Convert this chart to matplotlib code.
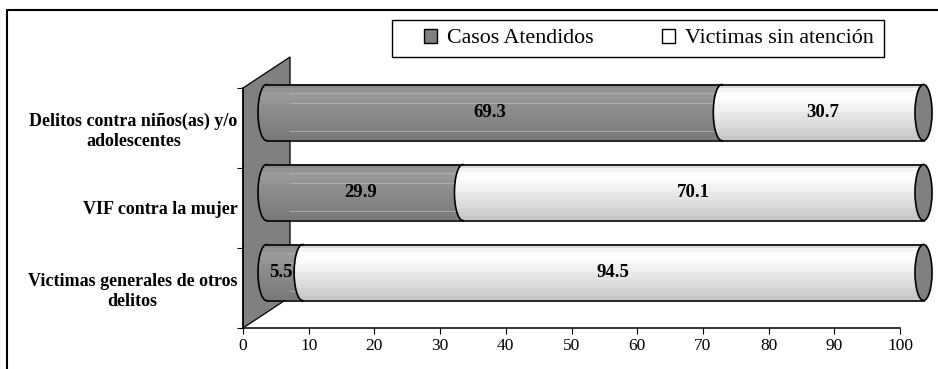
import numpy as np
import matplotlib.pyplot as plt
from matplotlib.patches import Polygon, Ellipse, Patch, Rectangle
from matplotlib.lines import Line2D

plt.rcParams['font.family'] = ['Liberation Serif', 'DejaVu Serif']

# datos (de abajo hacia arriba)
categorias = ['Victimas generales de otros\ndelitos',
              'VIF contra la mujer',
              'Delitos contra niños(as) y/o\nadolescentes']
atendidos = [5.5, 29.9, 69.3]
sin_atencion = [94.5, 70.1, 30.7]
series = ['Casos Atendidos', 'Victimas sin atención']
ticks_x = list(range(0, 101, 10))

W, H = 938, 369
fig = plt.figure(figsize=(W / 100, H / 100), dpi=100)
ax = fig.add_axes([243 / W, 41 / H, 657 / W, 240 / H])
ax.set_xlim(0, 100)
ax.set_ylim(-0.5, 2.5)

# pixeles -> unidades de datos
ux = 100 / 657
uy = 3 / 240
fondo_x, fondo_y = 47 * ux, 31 * uy      # profundidad de la caja 3d
dxb, dyb = fondo_x / 2, fondo_y / 2      # los cilindros van a media profundidad
alto = 0.7                               # grosor del cilindro
a = 8.5 * ux                             # semieje de la elipse del extremo
b = alto / 2

# pared lateral gris
pared = Polygon([(0, -0.5), (0, 2.5), (fondo_x, 2.5 + fondo_y), (fondo_x, -0.5 + fondo_y)],
                closed=True, facecolor='#808080', edgecolor='black', lw=0.9,
                clip_on=False, zorder=1)
ax.add_patch(pared)

# bandas de sombreado (arriba -> abajo)
bandas_blanco = [0.86, 0.95, 1.0, 1.0, 0.97, 0.95, 0.93, 0.91, 0.89, 0.87, 0.85, 0.82, 0.80, 0.78]
bandas_gris = [0.55, 0.58, 0.60, 0.59, 0.58, 0.56, 0.55, 0.54, 0.53, 0.52, 0.51, 0.50, 0.49, 0.48]


def contorno(x0, x1, yc):
    t1 = np.linspace(np.pi / 2, 3 * np.pi / 2, 40)
    t2 = np.linspace(-np.pi / 2, np.pi / 2, 40)
    izq = np.column_stack([x0 + a * np.cos(t1), yc + b * np.sin(t1)])
    der = np.column_stack([x1 + a * np.cos(t2), yc + b * np.sin(t2)])
    return np.vstack([izq, der])


def segmento(x0, x1, yc, bandas, rayas=False):
    xs0, xs1 = x0 + dxb, x1 + dxb
    y = yc + dyb
    forma = Polygon(contorno(xs0, xs1, y), closed=True, facecolor='none',
                    edgecolor='none', zorder=3, clip_on=False)
    ax.add_patch(forma)
    img = ax.imshow(np.array(bandas)[:, None], cmap='gray', vmin=0, vmax=1,
                    extent=[xs0 - a, xs1 + a, y - b, y + b], aspect='auto',
                    interpolation='nearest', zorder=3)
    img.set_clip_box(fig.bbox)
    img.set_clip_path(forma)
    # rayas claras sobre la parte gris, desde el fondo de la pared hasta el arco siguiente
    if rayas:
        for f in [0.7, 0.35, -0.65]:
            fin = xs1 - a * np.sqrt(1 - f ** 2)
            if fin > fondo_x:
                ax.plot([fondo_x, fin], [y + f * b, y + f * b], color='#b4b4b4',
                        lw=0.6, zorder=3.5, clip_on=False)
    # borde: arco izquierdo y lineas superior/inferior
    t1 = np.linspace(np.pi / 2, 3 * np.pi / 2, 40)
    ax.plot(xs0 + a * np.cos(t1), y + b * np.sin(t1), color='black', lw=1.2,
            zorder=4, clip_on=False)
    ax.plot([xs0, xs1], [y + b, y + b], color='black', lw=1.2, zorder=4, clip_on=False)
    ax.plot([xs0, xs1], [y - b, y - b], color='black', lw=1.2, zorder=4, clip_on=False)


for i in range(len(categorias)):
    v1, v2 = atendidos[i], sin_atencion[i]
    segmento(0, v1, i, bandas_gris, rayas=True)
    segmento(v1, v1 + v2, i, bandas_blanco)
    tapa = Ellipse((v1 + v2 + dxb, i + dyb), 2 * a, alto, facecolor='#808080',
                   edgecolor='black', lw=1.2, zorder=5, clip_on=False)
    ax.add_patch(tapa)
    ax.text(v1 / 2 + dxb - 0.6, i + dyb, f'{v1:.1f}', ha='center', va='center',
            fontsize=13.5, fontweight='bold', zorder=6)
    ax.text(v1 + v2 / 2 + dxb, i + dyb, f'{v2:.1f}', ha='center', va='center',
            fontsize=13.5, fontweight='bold', zorder=6)

# ejes
for s in ['top', 'right']:
    ax.spines[s].set_visible(False)
for s in ['left', 'bottom']:
    ax.spines[s].set_linewidth(1.1)
    ax.spines[s].set_zorder(2)
ax.set_facecolor('none')
ax.set_xticks(ticks_x)
ax.tick_params(axis='x', direction='out', length=4, labelsize=12.5, pad=3)
ax.set_yticks([-0.5, 0.5, 1.5, 2.5])
ax.set_yticklabels([])
ax.set_yticks(range(len(categorias)), minor=True)
ax.set_yticklabels(categorias, minor=True, fontsize=13, fontweight='bold')
ax.tick_params(axis='y', which='major', direction='out', length=4)
ax.tick_params(axis='y', which='minor', length=0, pad=4)
for lab in ax.get_yticklabels(minor=True):
    lab.set_multialignment('center')

# leyenda
handles = [Patch(facecolor='#808080', edgecolor='black', lw=1),
           Patch(facecolor='white', edgecolor='black', lw=1)]
fig.legend(handles, series, loc='center left', bbox_to_anchor=(424 / W, 1 - 38.5 / H),
           ncol=2, frameon=False, fontsize=15.8, handlelength=0.6, handleheight=0.6,
           handletextpad=0.45, columnspacing=3.1, borderpad=0, borderaxespad=0)
fig.add_artist(Rectangle((392 / W, 1 - 57 / H), 492 / W, 37 / H, transform=fig.transFigure,
                         fill=False, edgecolor='black', lw=1))

# marco exterior
fig.add_artist(Line2D([7 / W, 7 / W, 1], [0, 1 - 10 / H, 1 - 10 / H],
                      transform=fig.transFigure, color='black', lw=1.5))

fig.savefig('out.png', dpi=100)
